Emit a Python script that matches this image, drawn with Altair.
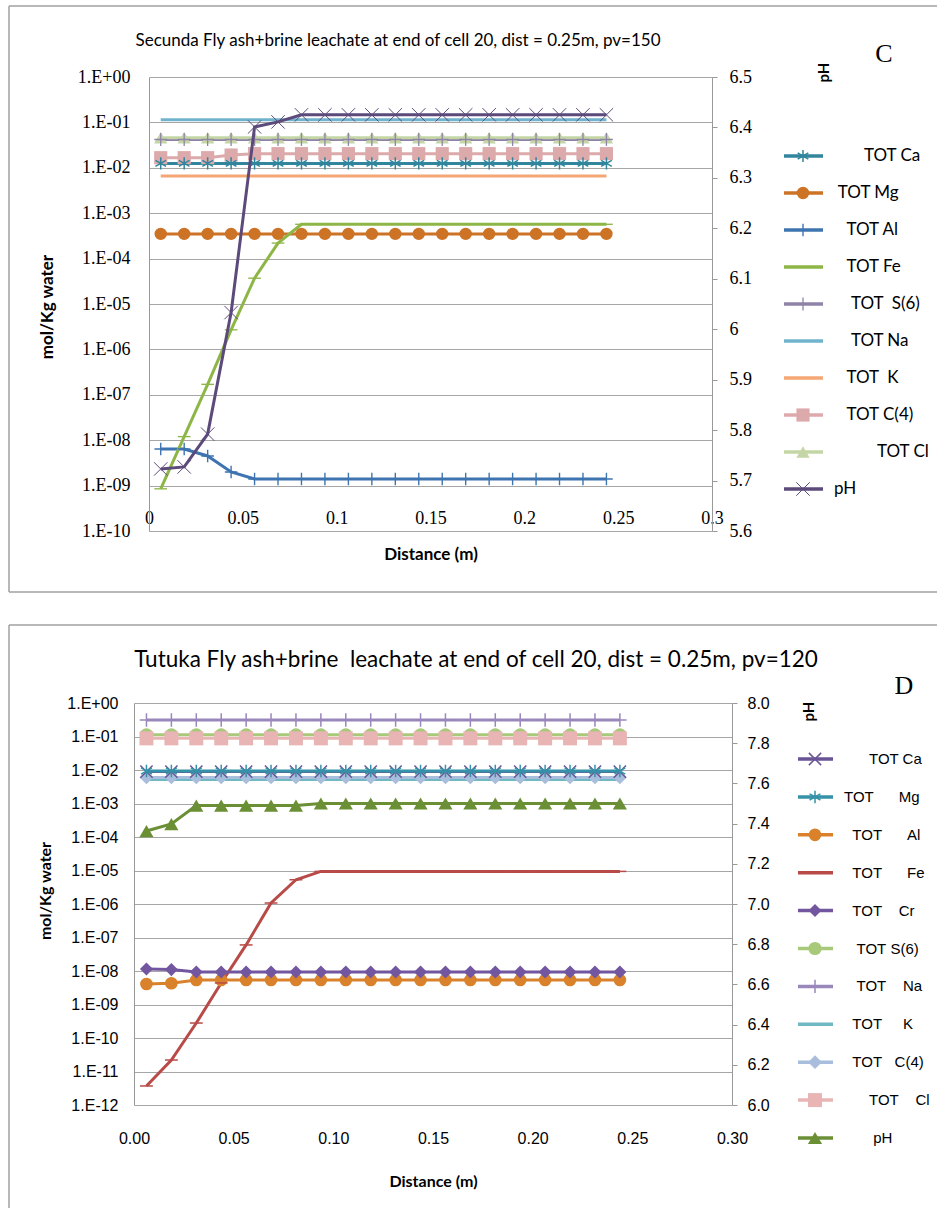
import altair as alt
import pandas as pd

NB = "\u00a0"
ZW = "\u200b"  # keeps the leading spaces of the legend names from being trimmed


def sp(n):
    return NB * n


# ---------------- data ----------------
distance = [0.00625, 0.01875, 0.03125, 0.04375, 0.05625, 0.06875, 0.08125, 0.09375,
            0.10625, 0.11875, 0.13125, 0.14375, 0.15625, 0.16875, 0.18125, 0.19375,
            0.20625, 0.21875, 0.23125, 0.24375]

# Panel C (Secunda)
c_series = ["TOT Ca", "TOT Mg", "TOT Al", "TOT Fe", "TOT S(6)", "TOT Na", "TOT K",
            "TOT C(4)", "TOT Cl", "pH"]
c_labels = [sp(7) + "TOT Ca", sp(1) + "TOT Mg", sp(3) + "TOT Al", sp(3) + "TOT Fe",
            sp(4) + "TOT" + sp(2) + "S(6)", sp(4) + "TOT Na", sp(3) + "TOT" + sp(2) + "K",
            sp(3) + "TOT C(4)", sp(10) + "TOT Cl", "pH"]
c_Ca = [0.0125] * 20
c_Mg = [3.5e-4] * 20
c_Al = [6.4e-9, 6.4e-9, 4.5e-9, 2.0e-9] + [1.4e-9] * 16
c_Fe = [8.5e-10, 1.2e-8, 1.7e-7, 2.7e-6, 3.7e-5, 2.2e-4] + [5.7e-4] * 14
c_S6 = [0.042] * 20
c_Na = [0.115] * 20
c_K = [6.6e-3] * 20
c_C4 = [0.0167, 0.0167, 0.0167, 0.0191] + [0.0205] * 16
c_Cl = [0.046] * 20
c_pH = [5.723, 5.727, 5.792, 6.033, 6.401, 6.411] + [6.425] * 14

# Panel D (Tutuka)
d_series = ["TOT Ca", "TOT Mg", "TOT Al", "TOT Fe", "TOT Cr", "TOT S(6)", "TOT Na",
            "TOT K", "TOT C(4)", "TOT Cl", "pH"]
d_labels = [sp(6) + "TOT Ca", "TOT" + sp(6) + "Mg", sp(2) + "TOT" + sp(6) + "Al",
            sp(2) + "TOT" + sp(6) + "Fe", sp(2) + "TOT" + sp(4) + "Cr",
            sp(3) + "TOT" + sp(1) + "S(6)", sp(3) + "TOT" + sp(4) + "Na",
            sp(2) + "TOT" + sp(5) + "K", sp(2) + "TOT" + sp(3) + "C(4)",
            sp(6) + "TOT" + sp(4) + "Cl", sp(7) + "pH"]
d_Ca = [0.009] * 20
d_Mg = [0.0093] * 20
d_Al = [4.1e-9, 4.3e-9] + [5.4e-9] * 18
d_Fe = [3.7e-12, 2.2e-11, 2.8e-10, 4.4e-9, 6.0e-8, 1.07e-6, 5.3e-6] + [9.4e-6] * 13
d_Cr = [1.15e-8, 1.1e-8] + [9.3e-9] * 18
d_S6 = [0.112] * 20
d_Na = [0.31] * 20
d_K = [0.0052] * 20
d_C4 = [0.0060] * 20
d_Cl = [0.088] * 20
d_pH = [7.363, 7.398, 7.49, 7.49, 7.49, 7.49, 7.49] + [7.50] * 13

c_title = "Secunda Fly ash+brine leachate at end of cell 20, dist = 0.25m, pv=150"
d_title = "Tutuka Fly ash+brine" + sp(2) + "leachate at end of cell 20, dist = 0.25m, pv=120"
y_title = "mol/Kg water"
x_title = "Distance (m)"

x_ticks = [0, 0.05, 0.1, 0.15, 0.2, 0.25, 0.3]
c_log_ticks = [1e-10, 1e-9, 1e-8, 1e-7, 1e-6, 1e-5, 1e-4, 1e-3, 1e-2, 1e-1, 1]
d_log_ticks = [1e-12, 1e-11, 1e-10, 1e-9, 1e-8, 1e-7, 1e-6, 1e-5, 1e-4, 1e-3, 1e-2, 1e-1, 1]
c_ph_ticks = [5.6, 5.7, 5.8, 5.9, 6.0, 6.1, 6.2, 6.3, 6.4, 6.5]
d_ph_ticks = [6.0, 6.2, 6.4, 6.6, 6.8, 7.0, 7.2, 7.4, 7.6, 7.8, 8.0]

# ---------------- styles ----------------
ASTER = "M0,-1V1M-0.87,-0.5L0.87,0.5M-0.87,0.5L0.87,-0.5"
PLUS = "M-1,0H1M0,-1V1"
XMARK = "M-1,-1L1,1M-1,1L1,-1"
DASH = "M-1,0H1"

c_colors = ["#31859C", "#CC7326", "#3E74B0", "#8DB646", "#8F83A8", "#6FB3CC",
            "#F4A775", "#DDAAAC", "#C4D6A6", "#5C4A7A"]
c_shapes = [ASTER, "circle", PLUS, DASH, PLUS, "circle", "circle", "square",
            "triangle-up", XMARK]
c_sizes = [150, 180, 110, 110, 110, 10, 10, 170, 170, 200]
c_sw = [1.5, 1, 1.5, 5, 1.5, 1, 1, 1, 1, 1.5]
c_filled = ["TOT Mg", "TOT C(4)", "TOT Cl"]
c_stroked = ["TOT Ca", "TOT Al", "TOT Fe", "TOT S(6)", "pH"]

d_colors = ["#6A5496", "#3592A8", "#D9822B", "#B84A47", "#7256A0", "#A9C97A",
            "#9A87BC", "#6FB8C4", "#A8BEDC", "#E8B4B4", "#6A8F35"]
d_shapes = [XMARK, ASTER, "circle", DASH, "diamond", "circle", PLUS, "circle",
            "diamond", "square", "triangle-up"]
d_sizes = [150, 200, 130, 40, 140, 150, 200, 10, 140, 150, 160]
d_sw = [1.5, 1.5, 1, 3, 1, 1, 1.5, 1, 1, 1, 1]
d_filled = ["TOT Al", "TOT Cr", "TOT S(6)", "TOT C(4)", "TOT Cl", "pH"]
d_stroked = ["TOT Ca", "TOT Mg", "TOT Fe", "TOT Na"]

LOG_EXPR = ("datum.value >= 1 ? '1.E+00' : '1.E-' + "
            "format(round(-log(datum.value)/LN10), '02d')")
AXIS_GREY = "#999999"


def one(text=""):
    return pd.DataFrame({"t": [text]})


def build_panel(p):
    names = p["series"]
    conc_rows = []
    for name, vals in zip(names[:-1], p["conc"]):
        for xv, v in zip(distance, vals):
            conc_rows.append({"series": name, "x": xv, "v": v})
    conc_df = pd.DataFrame(conc_rows)
    ph_df = pd.DataFrame({"series": "pH", "x": distance, "ph": p["ph"]})
    leg_df = pd.DataFrame({"series": names, "li": list(range(len(names))),
                           "label": [ZW + s for s in p["labels"]]})

    W, H = p["width"], p["height"]
    x0 = p["xstart"]
    color = alt.Color("series:N", scale=alt.Scale(domain=names, range=p["colors"]), legend=None)
    shape = alt.Shape("series:N", scale=alt.Scale(domain=names, range=p["shapes"]), legend=None)
    size = alt.Size("series:N", scale=alt.Scale(domain=names, range=p["sizes"]), legend=None)
    sw = alt.StrokeWidth("series:N", scale=alt.Scale(domain=names, range=p["sw"]), legend=None)

    X = alt.X("x:Q", scale=alt.Scale(domain=[0, 0.3], range=[x0, W], nice=False, zero=False),
              axis=alt.Axis(values=x_ticks, format=p["xfmt"], labelFlush=False, grid=False,
                            ticks=False, tickSize=0, domain=False,
                            labelPadding=p["xlabpad"], labelFont=p["tickfont"],
                            labelFontSize=p["ticksize"], labelColor="black", labelOverlap=False,
                            title=x_title, titleFont="Lato", titleFontWeight="bold",
                            titleFontSize=p["atsize"], titleColor="black", titleX=(x0 + W) / 2,
                            titleY=p["xtitleY"], titleAlign="center", titleBaseline="middle"))
    Y = alt.Y("v:Q", scale=alt.Scale(type="log", domain=p["logdomain"], nice=False),
              axis=alt.Axis(values=p["logticks"], labelExpr=LOG_EXPR, grid=True,
                            gridColor="#A6A6A6", gridWidth=1, ticks=False, domain=True,
                            domainColor=AXIS_GREY, domainWidth=1, offset=-x0,
                            labelFont=p["tickfont"], labelFontSize=p["ticksize"],
                            labelColor="black", labelPadding=p["ylabpad"], labelOverlap=False,
                            title=None))
    YPH = alt.Y("ph:Q", scale=alt.Scale(domain=p["phdomain"], nice=False, zero=False),
                axis=alt.Axis(orient="right", values=p["phticks"], format=p["phfmt"],
                              grid=False, ticks=True, tickSize=5, tickColor=AXIS_GREY,
                              domain=True, domainColor=AXIS_GREY, domainWidth=1,
                              labelFont=p["tickfont"], labelFontSize=p["ticksize"],
                              labelColor="black", labelPadding=p["phlabpad"],
                              labelOverlap=False, title="pH", titleFont="Lato",
                              titleFontSize=15, titleFontWeight="bold", titleColor="black",
                              titleX=p["phtitleX"], titleY=p["phtitleY"], titleAngle=270,
                              titleAlign="center", titleBaseline="middle"))

    filt_f = alt.FieldOneOfPredicate(field="series", oneOf=[s for s in p["filled"] if s != "pH"])
    filt_s = alt.FieldOneOfPredicate(field="series", oneOf=[s for s in p["stroked"] if s != "pH"])

    lines = alt.Chart(conc_df).mark_line(strokeWidth=p["lw"]).encode(
        x=X, y=Y, color=color, detail="series:N")
    pts_f = alt.Chart(conc_df).transform_filter(filt_f).mark_point(
        filled=True, opacity=1).encode(x=X, y=Y, color=color, shape=shape, size=size)
    pts_s = alt.Chart(conc_df).transform_filter(filt_s).mark_point(
        filled=False, opacity=1).encode(x=X, y=Y, color=color, shape=shape, size=size,
                                        strokeWidth=sw)
    conc = alt.layer(lines, pts_f, pts_s)

    ph_line = alt.Chart(ph_df).mark_line(strokeWidth=p["lw"]).encode(x=X, y=YPH, color=color)
    ph_pts = alt.Chart(ph_df).mark_point(
        filled=("pH" in p["filled"]), opacity=1).encode(
        x=X, y=YPH, color=color, shape=shape, size=size, strokeWidth=sw)
    ph = alt.layer(ph_line, ph_pts)

    LY = alt.Y("li:Q", scale=alt.Scale(domain=[0, len(names) - 1], range=p["legrange"]),
               axis=None)
    lx0, lx1, lmx, ltx = p["legx"]
    leg_rule = alt.Chart(leg_df).mark_rule(strokeWidth=3.5).encode(
        x=alt.value(lx0), x2=alt.value(lx1), y=LY, color=color)
    leg_f = alt.Chart(leg_df).transform_filter(
        alt.FieldOneOfPredicate(field="series", oneOf=p["filled"])).mark_point(
        filled=True, opacity=1).encode(x=alt.value(lmx), y=LY, color=color, shape=shape,
                                       size=size)
    leg_s = alt.Chart(leg_df).transform_filter(
        alt.FieldOneOfPredicate(field="series", oneOf=p["stroked"])).mark_point(
        filled=False, opacity=1).encode(x=alt.value(lmx), y=LY, color=color, shape=shape,
                                        size=size, strokeWidth=sw)
    leg_t = alt.Chart(leg_df).mark_text(
        align="left", baseline="middle", font=p["legfont"], fontSize=p["legsize"],
        color="black").encode(x=alt.value(ltx), y=LY, text="label:N")
    leg = alt.layer(leg_rule, leg_f, leg_s, leg_t)

    fl, ft, fr, fb = p["frame"]
    frame_col = "#A0A0A0"
    deco = [
        alt.Chart(one()).mark_rule(color=frame_col, strokeWidth=1.5).encode(
            x=alt.value(fl), x2=alt.value(fr), y=alt.value(ft)),
        alt.Chart(one()).mark_rule(color=frame_col, strokeWidth=1.5).encode(
            x=alt.value(fl), y=alt.value(ft), y2=alt.value(fb)),
    ]
    if p["frame_bottom"]:
        deco.append(alt.Chart(one()).mark_rule(color=frame_col, strokeWidth=1.5).encode(
            x=alt.value(fl), x2=alt.value(fr), y=alt.value(fb)))
    tx, ty = p["titlepos"]
    deco.append(alt.Chart(one(p["title"])).mark_text(
        font="Lato", fontSize=p["titlesize"], color="black", align="center",
        baseline="middle").encode(x=alt.value(tx), y=alt.value(ty), text="t:N"))
    yx, yy = p["ytitlepos"]
    deco.append(alt.Chart(one(y_title)).mark_text(
        font="Lato", fontSize=p["atsize"], fontWeight="bold", color="black", align="center",
        baseline="middle", angle=270).encode(x=alt.value(yx), y=alt.value(yy), text="t:N"))
    lx, ly = p["letterpos"]
    deco.append(alt.Chart(one(p["letter"])).mark_text(
        font="Liberation Serif", fontSize=26, color="black", align="center",
        baseline="middle").encode(x=alt.value(lx), y=alt.value(ly), text="t:N"))

    return alt.layer(conc, ph, leg, *deco).resolve_scale(y="independent").properties(
        width=W, height=H)


# both panels share the same plot origin (page x = 133); panel C's data area starts 15 px in
panel_c = build_panel(dict(
    series=c_series, labels=c_labels,
    conc=[c_Ca, c_Mg, c_Al, c_Fe, c_S6, c_Na, c_K, c_C4, c_Cl], ph=c_pH,
    colors=c_colors, shapes=c_shapes, sizes=c_sizes, sw=c_sw,
    filled=c_filled, stroked=c_stroked, lw=3,
    width=578, height=454, xstart=15, xfmt=".2~f", xlabpad=-22, xtitleY=23,
    tickfont="Liberation Serif", ticksize=18, atsize=17,
    logdomain=[1e-10, 1], logticks=c_log_ticks, ylabpad=19,
    phdomain=[5.6, 6.5], phticks=c_ph_ticks, phfmt=".1~f", phlabpad=12,
    phtitleX=111, phtitleY=-5,
    legrange=[79, 412], legx=(650, 689, 669, 700), legfont="Lato", legsize=17,
    frame=(-125, -71, 803, 515), frame_bottom=True,
    title=c_title, titlesize=17, titlepos=(264, -36), ytitlepos=(-86, 230),
    letter="C", letterpos=(750, -23),
))

panel_d = build_panel(dict(
    series=d_series, labels=d_labels,
    conc=[d_Ca, d_Mg, d_Al, d_Fe, d_Cr, d_S6, d_Na, d_K, d_C4, d_Cl], ph=d_pH,
    colors=d_colors, shapes=d_shapes, sizes=d_sizes, sw=d_sw,
    filled=d_filled, stroked=d_stroked, lw=3,
    width=598, height=402, xstart=0, xfmt=".2f", xlabpad=25, xtitleY=76,
    tickfont="Liberation Sans", ticksize=16, atsize=16,
    logdomain=[1e-12, 1], logticks=d_log_ticks, ylabpad=16,
    phdomain=[6.0, 8.0], phticks=d_ph_ticks, phfmt=".1f", phlabpad=10,
    phtitleX=76, phtitleY=8,
    legrange=[56, 435], legx=(664, 699, 681, 710),
    legfont="Liberation Sans", legsize=15,
    frame=(-125, -78, 803, 505), frame_bottom=False,
    title=d_title, titlesize=22.5, titlepos=(342, -43), ytitlepos=(-88, 188),
    letter="D", letterpos=(770, -17),
))

chart = alt.concat(panel_c, panel_d, columns=1, spacing=31).resolve_scale(
    color="independent", shape="independent", size="independent",
    strokeWidth="independent",
).properties(
    padding={"left": 8, "top": 5, "right": 0, "bottom": 0},
    background="white",
).configure_view(strokeWidth=0)

chart.save("out.html", embed_options={"renderer": "svg", "actions": False})
